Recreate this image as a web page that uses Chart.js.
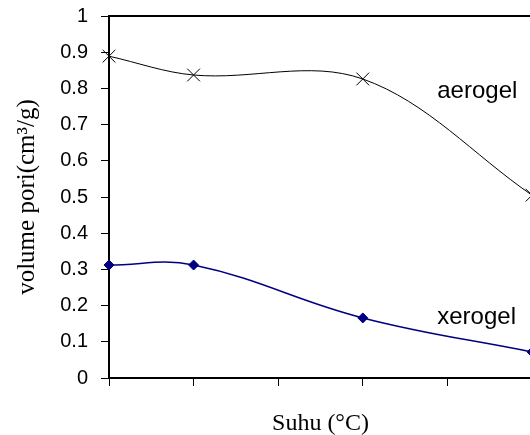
<!DOCTYPE html>
<html>
<head>
<meta charset="utf-8">
<script src="https://cdn.jsdelivr.net/npm/chart.js@4/dist/chart.umd.min.js"></script>
<style>
    html, body { margin: 0; padding: 0; background: #fff; overflow: hidden; }
    #wrap { width: 545px; height: 435px; }
</style>
</head>
<body>
<div id="wrap"><canvas id="pori-chart" width="545" height="435"></canvas></div>
<script>
// data
var suhu = [0, 1, 3, 5];
var aerogel = [0.889, 0.837, 0.826, 0.505];
var xerogel = [0.312, 0.312, 0.166, 0.072];
var xTicks = [0, 1, 2, 3, 4, 5];
var yTicks = [0, 0.1, 0.2, 0.3, 0.4, 0.5, 0.6, 0.7, 0.8, 0.9, 1];
var seriesNames = ['aerogel', 'xerogel'];
var namePosX = [3.88, 3.88];
var namePosY = [0.793, 0.168];

function toPoints(ys) {
    return suhu.map(function(x, i) { return { x: x, y: ys[i] }; });
}

// garis atas + label seri
var extras = {
    id: 'extras',
    afterDraw: function(chart) {
        var ctx = chart.ctx;
        var area = chart.chartArea;
        var xs = chart.scales.x, ys = chart.scales.y;
        ctx.save();
        ctx.strokeStyle = '#000';
        ctx.lineWidth = 2;
        ctx.beginPath();
        ctx.moveTo(area.left, area.top);
        ctx.lineTo(area.right + 20, area.top);
        ctx.stroke();

        ctx.fillStyle = '#000';
        ctx.font = '24px "Liberation Sans", Arial, sans-serif';
        ctx.textAlign = 'left';
        ctx.textBaseline = 'middle';
        seriesNames.forEach(function(name, i) {
            ctx.fillText(name, xs.getPixelForValue(namePosX[i]), ys.getPixelForValue(namePosY[i]));
        });
        ctx.restore();
    }
};

var ctx = document.getElementById('pori-chart').getContext('2d');
var poriChart = new Chart(ctx, {
    type: 'line',
    data: {
        datasets: [
            {
                label: seriesNames[0],
                data: toPoints(aerogel),
                borderColor: '#000',
                borderWidth: 1,
                pointStyle: 'crossRot',
                pointRadius: 9,
                pointBorderColor: '#000',
                pointBorderWidth: 1,
                tension: 0.35,
                clip: false
            },
            {
                label: seriesNames[1],
                data: toPoints(xerogel),
                borderColor: '#000080',
                borderWidth: 1.5,
                pointStyle: 'rectRot',
                pointRadius: 5,
                pointBackgroundColor: '#000080',
                pointBorderColor: '#000080',
                pointBorderWidth: 1,
                tension: 0.4,
                clip: false
            }
        ]
    },
    options: {
        responsive: false,
        animation: false,
        devicePixelRatio: 1,
        layout: { padding: { top: 16, right: 13, bottom: 0, left: 0 } },
        plugins: {
            legend: { display: false },
            tooltip: { enabled: false }
        },
        scales: {
            x: {
                type: 'linear',
                min: 0,
                max: 5,
                afterBuildTicks: function(scale) {
                    scale.ticks = xTicks.map(function(v) { return { value: v }; });
                },
                afterFit: function(scale) {
                    scale.height = 57;
                    scale.paddingLeft = 0;
                    scale.paddingRight = 0;
                },
                ticks: { display: false },
                grid: { drawOnChartArea: false, drawTicks: true, tickLength: 8, color: '#000', lineWidth: 1 },
                border: { display: true, color: '#000', width: 2 },
                title: {
                    display: true,
                    text: 'Suhu (°C)',
                    color: '#000',
                    font: { family: '"Liberation Serif", "Times New Roman", serif', size: 24 },
                    padding: { top: 0, bottom: -3 }
                }
            },
            y: {
                min: 0,
                max: 1,
                afterBuildTicks: function(scale) {
                    scale.ticks = yTicks.map(function(v) { return { value: v }; });
                },
                afterFit: function(scale) {
                    scale.width = 109;
                    scale.paddingTop = 0;
                    scale.paddingBottom = 0;
                },
                ticks: {
                    color: '#000',
                    padding: 13,
                    font: { family: '"Liberation Sans", Arial, sans-serif', size: 20 },
                    callback: function(v) { return String(v); }
                },
                grid: { drawOnChartArea: false, drawTicks: true, tickLength: 8, color: '#000', lineWidth: 1 },
                border: { display: true, color: '#000', width: 2 },
                title: {
                    display: true,
                    text: 'volume pori(cm³/g)',
                    color: '#000',
                    font: { family: '"Liberation Serif", "Times New Roman", serif', size: 25 },
                    padding: { top: 12, bottom: 0 }
                }
            }
        }
    },
    plugins: [extras]
});
</script>
</body>
</html>
